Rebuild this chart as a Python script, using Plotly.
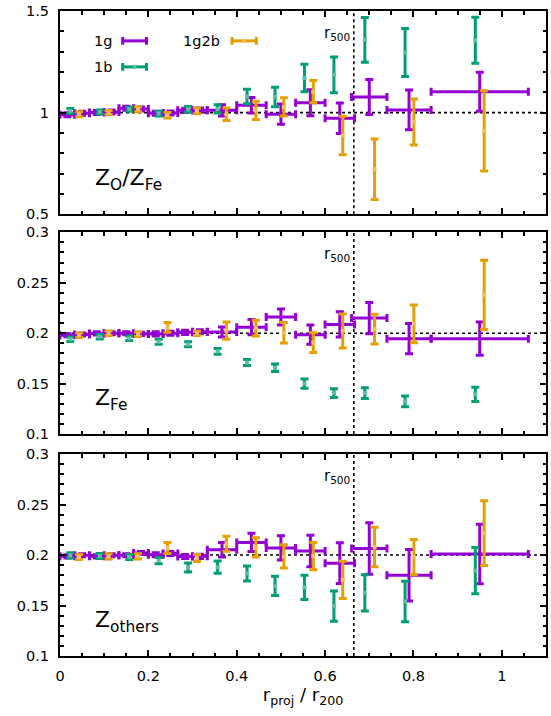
import plotly.graph_objects as go

# ---- radial bins (r_proj / r200) ----
x_1g = [0.0167, 0.05, 0.0833, 0.1167, 0.15, 0.1833, 0.2167, 0.25, 0.2833, 0.3167,
        0.3667, 0.4333, 0.5, 0.5667, 0.6333, 0.70, 0.79, 0.95]
xerr_1g = [0.0167] * 10 + [0.0333] * 5 + [0.04, 0.05, 0.11]
x_1b = [0.0233, 0.09, 0.1567, 0.2233, 0.29, 0.3567, 0.4233, 0.4867, 0.5533, 0.62,
        0.69, 0.781, 0.94]
x_1g2b = [0.0433, 0.11, 0.1767, 0.2433, 0.31, 0.3767, 0.4433, 0.5067, 0.5733, 0.64,
          0.712, 0.801, 0.96]

# ---- Z_O / Z_Fe ----
ofe_1g = [0.989, 0.997, 1.0, 1.003, 1.021, 1.018, 0.997, 0.998, 1.011, 1.012,
          1.011, 1.036, 0.992, 1.049, 0.972, 1.077, 1.013, 1.103]
ofe_1g_err = [0.01] * 10 + [0.028, 0.038, 0.05, 0.064, 0.075, 0.086, 0.098, 0.096]
ofe_1b = [1.008, 1.003, 1.016, 0.995, 1.016, 1.018, 1.079, 1.077, 1.17, 1.186,
          1.358, 1.296, 1.356]
ofe_1b_err = [0.012, 0.01, 0.01, 0.012, 0.014, 0.02, 0.036, 0.048, 0.068, 0.088,
              0.11, 0.118, 0.113]
ofe_1g2b = [0.992, 1.0, 1.016, 0.987, 1.008, 0.992, 1.011, 1.028, 1.103, 0.887,
            0.721, 0.954, 0.91]
ofe_1g2b_err = [0.012, 0.01, 0.012, 0.014, 0.014, 0.031, 0.045, 0.045, 0.055, 0.095,
                0.149, 0.113, 0.198]

# ---- Z_Fe ----
fe_1g = [0.198, 0.1988, 0.1998, 0.2, 0.2, 0.1993, 0.1993, 0.2, 0.2008, 0.2015,
         0.2012, 0.206, 0.216, 0.1985, 0.2087, 0.215, 0.1946, 0.1946]
fe_1g_err = [0.0015] * 6 + [0.002] * 4 + [0.005, 0.0075, 0.008, 0.0095, 0.0125,
                                          0.0155, 0.015, 0.0165]
fe_1b = [0.194, 0.1965, 0.195, 0.1916, 0.189, 0.182, 0.171, 0.1657, 0.150, 0.1407,
         0.1407, 0.1325, 0.1394]
fe_1b_err = [0.0022, 0.0022, 0.0022, 0.0025, 0.0025, 0.0028, 0.003, 0.0037, 0.0045,
             0.0043, 0.0053, 0.0053, 0.007]
fe_1g2b = [0.198, 0.2, 0.199, 0.2057, 0.1998, 0.2025, 0.205, 0.2005, 0.1906, 0.2022,
           0.204, 0.2092, 0.238]
fe_1g2b_err = [0.0022, 0.0022, 0.0022, 0.0048, 0.0022, 0.0085, 0.0078, 0.0102,
               0.0098, 0.0168, 0.0148, 0.0188, 0.0343]

# ---- Z_others ----
oth_1g = [0.1987, 0.1997, 0.1987, 0.1997, 0.1997, 0.202, 0.2004, 0.2015, 0.1985,
          0.1987, 0.2053, 0.2125, 0.207, 0.204, 0.192, 0.2066, 0.18, 0.201]
oth_1g_err = [0.0015] * 6 + [0.002] * 4 + [0.0072, 0.009, 0.012, 0.0155, 0.0202,
                                           0.0255, 0.0255, 0.0295]
oth_1b = [0.1997, 0.199, 0.198, 0.1945, 0.1876, 0.188, 0.1817, 0.1695, 0.168,
          0.1495, 0.1626, 0.154, 0.1846]
oth_1b_err = [0.0025, 0.0025, 0.0025, 0.003, 0.0045, 0.006, 0.0075, 0.0095, 0.012,
              0.015, 0.018, 0.02, 0.023]
oth_1g2b = [0.198, 0.1987, 0.1987, 0.207, 0.197, 0.2112, 0.2076, 0.1987, 0.199,
            0.1754, 0.208, 0.198, 0.2217]
oth_1g2b_err = [0.0025, 0.0025, 0.0025, 0.0055, 0.0035, 0.0075, 0.0095, 0.0115,
                0.0135, 0.0185, 0.0195, 0.0175, 0.032]

r500 = 0.665
colors = {"1g": "#9400D3", "1b": "#009E73", "1g2b": "#E69F00"}
light = {"1g": "#9400D3", "1b": "#5cc0a2", "1g2b": "#efc060"}

panels = [
    # (y values / errors per series, y range, major dtick, minor dtick, ref line, label)
    ((ofe_1g, ofe_1g_err, ofe_1b, ofe_1b_err, ofe_1g2b, ofe_1g2b_err),
     [0.5, 1.5], 0.5, 0.1, 1.0, "Z<sub>O</sub>/Z<sub>Fe</sub>"),
    ((fe_1g, fe_1g_err, fe_1b, fe_1b_err, fe_1g2b, fe_1g2b_err),
     [0.1, 0.3], 0.05, 0.01, 0.2, "Z<sub>Fe</sub>"),
    ((oth_1g, oth_1g_err, oth_1b, oth_1b_err, oth_1g2b, oth_1g2b_err),
     [0.1, 0.3], 0.05, 0.01, 0.2, "Z<sub>others</sub>"),
]
domains = [[0.685, 1.0], [0.344, 0.657], [0.0, 0.313]]

FONT = "DejaVu Sans"
fig = go.Figure()
shapes = []
annotations = []
THICK = 3

for i, (vals, yr, dt, mdt, ref, label) in enumerate(panels):
    n = "" if i == 0 else str(i + 1)
    xa, ya = "x" + n, "y" + n
    g, ge, b, be, o, oe = vals

    fig.add_trace(go.Scatter(
        x=x_1g, y=g, xaxis=xa, yaxis=ya, mode="markers",
        marker=dict(size=3, color=colors["1g"]),
        error_x=dict(type="data", array=xerr_1g, color=colors["1g"], thickness=THICK, width=4),
        error_y=dict(type="data", array=ge, color=colors["1g"], thickness=THICK, width=4),
        showlegend=False, hoverinfo="skip"))
    fig.add_trace(go.Scatter(
        x=x_1b, y=b, xaxis=xa, yaxis=ya, mode="markers",
        marker=dict(size=4, symbol="square", color=light["1b"]),
        error_y=dict(type="data", array=be, color=colors["1b"], thickness=THICK, width=4),
        showlegend=False, hoverinfo="skip"))
    fig.add_trace(go.Scatter(
        x=x_1g2b, y=o, xaxis=xa, yaxis=ya, mode="markers",
        marker=dict(size=4, symbol="square", color=light["1g2b"]),
        error_y=dict(type="data", array=oe, color=colors["1g2b"], thickness=THICK, width=4),
        showlegend=False, hoverinfo="skip"))

    axis_common = dict(
        showline=True, linewidth=2, linecolor="black", mirror="allticks",
        ticks="inside", ticklen=6, tickwidth=1.5, tickcolor="black",
        showgrid=False, zeroline=False,
        tickfont=dict(family=FONT, size=14.5, color="black"),
    )
    fig.update_layout(**{
        ("xaxis" + n): dict(
            axis_common, range=[0, 1.1], tick0=0, dtick=0.2,
            minor=dict(dtick=0.05, ticks="inside", ticklen=3.5, tickwidth=1.5, tickcolor="black"),
            anchor=ya, showticklabels=(i == 2), ticklabelstandoff=6,
            **({"matches": "x"} if i > 0 else {})),
        ("yaxis" + n): dict(
            axis_common, range=yr, tick0=yr[0], dtick=dt,
            minor=dict(dtick=mdt, ticks="inside", ticklen=3.5, tickwidth=1.5, tickcolor="black"),
            anchor=xa, domain=domains[i], ticklabelstandoff=6),
    })

    # reference level and r500 marker
    shapes.append(dict(type="line", xref=xa + " domain", yref=ya, x0=0, x1=1, y0=ref, y1=ref,
                       line=dict(color="black", width=1.6, dash="dot"), layer="below"))
    shapes.append(dict(type="line", xref=xa, yref=ya + " domain", x0=r500, x1=r500, y0=0, y1=1,
                       line=dict(color="black", width=1.6, dash="dot"), layer="below"))
    annotations.append(dict(xref=xa, yref=ya + " domain", x=r500 - 0.004, y=0.89,
                            xanchor="right", yanchor="middle", showarrow=False,
                            text="r<sub>500</sub>", font=dict(family=FONT, size=15, color="black")))
    annotations.append(dict(xref=xa + " domain", yref=ya + " domain", x=0.068, y=0.17,
                            xanchor="left", yanchor="middle", showarrow=False,
                            text=label, font=dict(family=FONT, size=22, color="black")))

# key drawn inside the top panel: label text followed by an error-bar sample
key = [("1g", 0.111, 0.129, 0.178, 0.853), ("1b", 0.111, 0.129, 0.178, 0.725),
       ("1g2b", 0.334, 0.354, 0.404, 0.853)]
for name, tx, sx0, sx1, sy in key:
    annotations.append(dict(xref="x domain", yref="y domain", x=tx, y=sy, xanchor="right",
                            yanchor="middle", showarrow=False, text=name,
                            font=dict(family=FONT, size=14.5, color="black")))
    c = colors[name]
    shapes.append(dict(type="line", xref="x domain", yref="y domain", x0=sx0, x1=sx1,
                       y0=sy, y1=sy, line=dict(color=c, width=THICK)))
    for sx in (sx0, sx1):
        shapes.append(dict(type="line", xref="x domain", yref="y domain", x0=sx, x1=sx,
                           y0=sy - 0.019, y1=sy + 0.019, line=dict(color=c, width=THICK)))
    if name != "1g":
        xm = 0.5 * (sx0 + sx1)
        shapes.append(dict(type="rect", xref="x domain", yref="y domain",
                           x0=xm - 0.004, x1=xm + 0.004, y0=sy - 0.01, y1=sy + 0.01,
                           fillcolor=light[name], line=dict(width=0)))

fig.update_layout(
    width=551, height=716,
    margin=dict(l=60, r=3, t=8, b=60),
    paper_bgcolor="white", plot_bgcolor="white",
    shapes=shapes, annotations=annotations,
    font=dict(family=FONT, color="black"),
    xaxis3_title=dict(text="r<sub>proj</sub> / r<sub>200</sub>",
                      font=dict(family=FONT, size=18, color="black"), standoff=4),
)

fig.write_html("out.html")
